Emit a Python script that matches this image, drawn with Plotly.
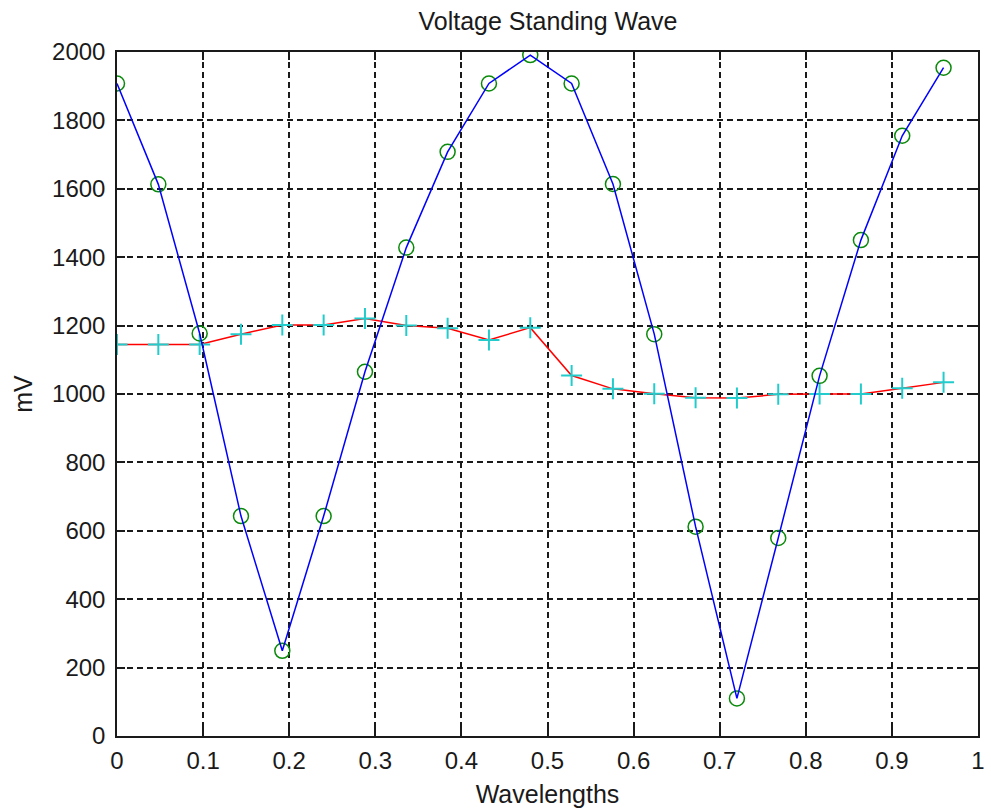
import plotly.graph_objects as go

wavelengths = [0.0, 0.048, 0.096, 0.144, 0.192, 0.24, 0.288, 0.336, 0.384, 0.432, 0.48,
               0.528, 0.576, 0.624, 0.672, 0.72, 0.768, 0.816, 0.864, 0.912, 0.96]
vswr_mv = [1908, 1613, 1177, 643, 249, 643, 1065, 1428, 1708, 1908, 1991,
           1908, 1614, 1175, 612, 110, 579, 1053, 1450, 1755, 1954]
flat_mv = [1145, 1145, 1145, 1175, 1202, 1202, 1221, 1200, 1192, 1158, 1194,
           1054, 1015, 1001, 989, 988, 999, 1000, 1000, 1017, 1034]

x_ticks = [0, 0.1, 0.2, 0.3, 0.4, 0.5, 0.6, 0.7, 0.8, 0.9, 1]
x_tick_labels = ["0", "0.1", "0.2", "0.3", "0.4", "0.5", "0.6", "0.7", "0.8", "0.9", "1"]
y_ticks = [0, 200, 400, 600, 800, 1000, 1200, 1400, 1600, 1800, 2000]

FONT = "Liberation Sans, Arial, sans-serif"
FS_TICK = 24
FS_TITLE = 25
INK = "#1a1a1a"

fig = go.Figure()
fig.add_trace(go.Scatter(x=wavelengths, y=flat_mv, mode="lines",
                         line=dict(color="#FF0000", width=1.5), showlegend=False))
fig.add_trace(go.Scatter(x=wavelengths, y=flat_mv, mode="markers",
                         marker=dict(symbol="cross-thin-open", size=15, color="#22CCCC",
                                     line=dict(color="#22CCCC", width=2)),
                         showlegend=False))
fig.add_trace(go.Scatter(x=wavelengths, y=vswr_mv, mode="markers",
                         marker=dict(symbol="circle-open", size=15, color="#0A8A0A",
                                     line=dict(color="#0A8A0A", width=1.5)),
                         showlegend=False))
fig.add_trace(go.Scatter(x=wavelengths, y=vswr_mv, mode="lines",
                         line=dict(color="#0000FF", width=1.5), showlegend=False))

axis_common = dict(
    showline=True, linecolor=INK, linewidth=1.5, mirror="ticks",
    ticks="inside", ticklen=8, tickwidth=1.5, tickcolor=INK,
    showgrid=True, gridcolor=INK, gridwidth=1.6, griddash="6px,4px",
    zeroline=False, tickfont=dict(family=FONT, size=FS_TICK, color=INK),
)

fig.update_xaxes(range=[0, 1], tickvals=x_ticks, ticktext=x_tick_labels,
                 title=dict(text="Wavelengths", font=dict(family=FONT, size=FS_TITLE, color=INK),
                            standoff=13),
                 ticklabelstandoff=2, **axis_common)
fig.update_yaxes(range=[0, 2000], tickvals=y_ticks,
                 title=dict(text="mV", font=dict(family=FONT, size=FS_TITLE, color=INK),
                            standoff=12),
                 ticklabelstandoff=5, **axis_common)

fig.update_layout(
    width=991, height=812,
    margin=dict(l=117, r=6, t=52, b=76),
    paper_bgcolor="white", plot_bgcolor="white",
    title=dict(text="Voltage Standing Wave", x=0.553, xanchor="center",
               y=0.974, yanchor="middle",
               font=dict(family=FONT, size=FS_TITLE, color=INK)),
)

fig.write_html("out.html")
